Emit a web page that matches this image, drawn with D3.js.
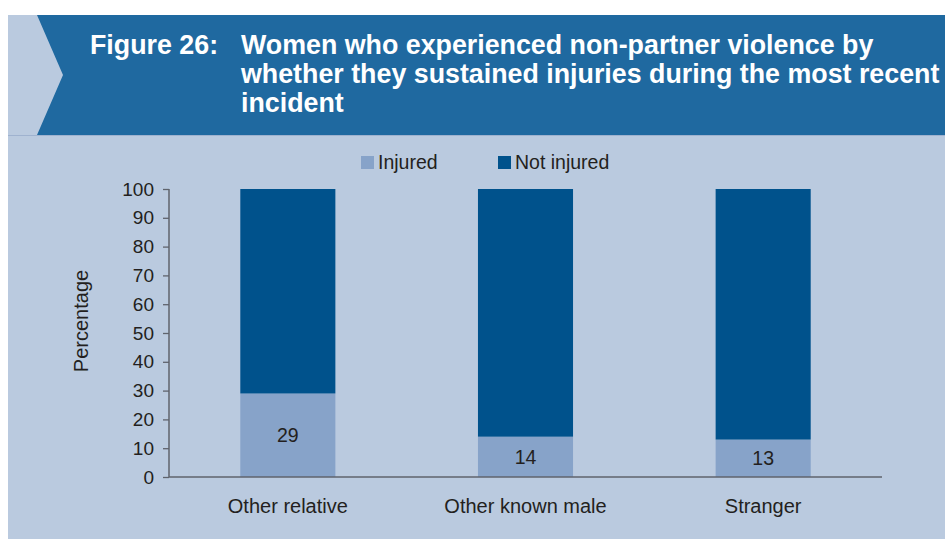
<!DOCTYPE html>
<html>
<head>
<meta charset="utf-8">
<script src="https://cdn.jsdelivr.net/npm/d3@7"></script>
<style>
  html, body { margin: 0; padding: 0; background: #ffffff; }
  svg { display: block; }
  text { font-family: "Liberation Sans", Arial, Helvetica, sans-serif; }
</style>
</head>
<body>
<svg id="chart" width="945" height="539"></svg>
<script>
const categories = ["Other relative", "Other known male", "Stranger"];
const injured = [29, 14, 13];
const notInjured = [71, 86, 87];
const seriesNames = ["Injured", "Not injured"];
const yTicks = [0, 10, 20, 30, 40, 50, 60, 70, 80, 90, 100];
const titleLabel = "Figure 26:";
const titleLines = ["Women who experienced non-partner violence by",
                    "whether they sustained injuries during the most recent",
                    "incident"];

const colors = { injured: "#87A3C9", notInjured: "#00528C", header: "#1F69A0",
                 panel: "#BACADF", text: "#231F20", axis: "#5f636d" };

const svg = d3.select("#chart");

// Background panels
svg.append("rect").attr("x", 8).attr("y", 15).attr("width", 937).attr("height", 524)
  .attr("fill", colors.panel);
svg.append("path")
  .attr("d", "M37,15 L945,15 L945,135 L37,135 L63,75 Z")
  .attr("fill", colors.header);
svg.append("line").attr("x1", 8).attr("x2", 945).attr("y1", 135.5).attr("y2", 135.5)
  .attr("stroke", "#9fb2cf").attr("stroke-width", 1);

// Title
svg.append("text").attr("x", 90).attr("y", 54)
  .attr("fill", "#ffffff").attr("font-weight", "bold").attr("font-size", "26.8px")
  .text(titleLabel);
const tt = svg.append("text").attr("fill", "#ffffff").attr("font-weight", "bold")
  .attr("font-size", "26.8px");
titleLines.forEach((l, i) => {
  tt.append("tspan").attr("x", 241).attr("y", 54 + i * 29).text(l);
});

// Scales
const x = d3.scaleBand().domain(categories).range([169, 882])
  .paddingInner(0.6).paddingOuter(0.3);
const y = d3.scaleLinear().domain([0, 100]).range([477, 189]);

// Bars
const data = categories.map((c, i) => ({ cat: c, inj: injured[i], not: notInjured[i] }));
const g = svg.append("g");
g.selectAll("rect.inj").data(data).join("rect").attr("class", "inj")
  .attr("x", d => x(d.cat)).attr("width", x.bandwidth())
  .attr("y", d => y(d.inj)).attr("height", d => y(0) - y(d.inj))
  .attr("fill", colors.injured);
g.selectAll("rect.not").data(data).join("rect").attr("class", "not")
  .attr("x", d => x(d.cat)).attr("width", x.bandwidth())
  .attr("y", d => y(d.inj + d.not)).attr("height", d => y(d.inj) - y(d.inj + d.not))
  .attr("fill", colors.notInjured);

// Value labels
g.selectAll("text.val").data(data).join("text").attr("class", "val")
  .attr("x", d => x(d.cat) + x.bandwidth() / 2)
  .attr("y", d => (y(0) + y(d.inj)) / 2)
  .attr("dy", "0.35em").attr("text-anchor", "middle")
  .attr("font-size", "19.5px").attr("fill", colors.text)
  .text(d => d.inj);

// Y axis
const yAxis = svg.append("g").attr("transform", "translate(169,0)")
  .call(d3.axisLeft(y).tickValues(yTicks).tickSize(6).tickPadding(9));
yAxis.select(".domain").attr("stroke", colors.axis).attr("stroke-width", 1.5)
  .attr("d", "M0,189V477");
yAxis.selectAll(".tick line").attr("stroke", colors.axis).attr("stroke-width", 1.3);
yAxis.selectAll(".tick text").attr("font-size", "19px").attr("fill", colors.text)
  .attr("font-family", "'Liberation Sans', Arial, sans-serif");

// X axis
const xAxis = svg.append("g").attr("transform", "translate(0,477)")
  .call(d3.axisBottom(x).tickSize(0).tickPadding(22));
xAxis.select(".domain").attr("stroke", colors.axis).attr("stroke-width", 1.5)
  .attr("d", "M169,0H882");
xAxis.selectAll(".tick text").attr("font-size", "20px").attr("fill", colors.text)
  .attr("font-family", "'Liberation Sans', Arial, sans-serif");

// Y axis title
svg.append("text").attr("transform", "translate(88,321) rotate(-90)")
  .attr("text-anchor", "middle").attr("font-size", "20px").attr("fill", colors.text)
  .text("Percentage");

// Legend
const legendItems = [
  { name: seriesNames[0], color: colors.injured, x: 361 },
  { name: seriesNames[1], color: colors.notInjured, x: 498 }
];
const lg = svg.append("g");
legendItems.forEach(it => {
  lg.append("rect").attr("x", it.x).attr("y", 156).attr("width", 13).attr("height", 13)
    .attr("fill", it.color);
  lg.append("text").attr("x", it.x + 17).attr("y", 169)
    .attr("font-size", "19.5px").attr("fill", colors.text).text(it.name);
});
</script>
</body>
</html>
